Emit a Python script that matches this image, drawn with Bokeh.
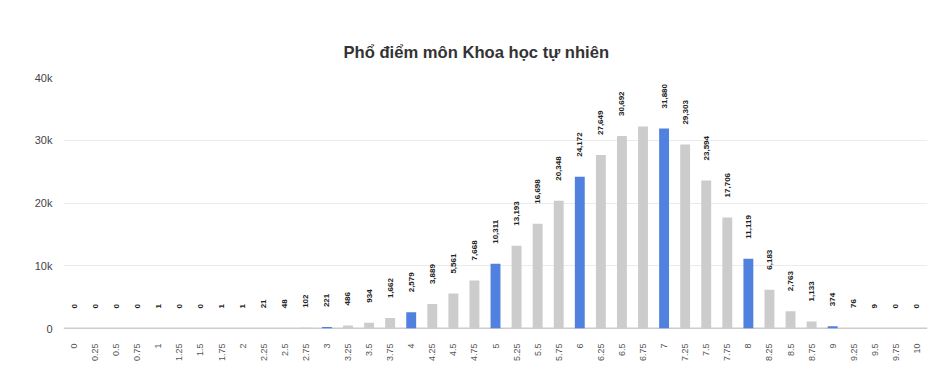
import math
from bokeh.plotting import figure
from bokeh.models import ColumnDataSource, FixedTicker, Span, Range1d, FactorRange
from bokeh.core.properties import value
from bokeh.embed import file_html
from bokeh.resources import INLINE

# ---- data ----
scores = ["0", "0.25", "0.5", "0.75", "1", "1.25", "1.5", "1.75", "2", "2.25", "2.5",
          "2.75", "3", "3.25", "3.5", "3.75", "4", "4.25", "4.5", "4.75", "5", "5.25",
          "5.5", "5.75", "6", "6.25", "6.5", "6.75", "7", "7.25", "7.5", "7.75", "8",
          "8.25", "8.5", "8.75", "9", "9.25", "9.5", "9.75", "10"]
counts = [0, 0, 0, 0, 1, 0, 0, 1, 1, 21, 48, 102, 221, 486, 934, 1662, 2579, 3889,
          5561, 7668, 10311, 13193, 16698, 20348, 24172, 27649, 30692, 32190, 31880,
          29303, 23594, 17706, 11119, 6183, 2763, 1133, 374, 76, 9, 0, 0]
hidden_labels = ["6.75"]
y_ticks = [0, 10000, 20000, 30000, 40000]
y_tick_labels = ["0", "10k", "20k", "30k", "40k"]

GRAY = "#cccccc"
BLUE = "#5181de"

colors = [BLUE if float(s).is_integer() and float(s) > 0 else GRAY for s in scores]
labels = ["" if s in hidden_labels else f"{c:,}" for s, c in zip(scores, counts)]

src = ColumnDataSource(dict(x=scores, y=counts, color=colors, label=labels))

p = figure(width=952, height=387, output_backend="svg", toolbar_location=None,
           x_range=FactorRange(*scores, range_padding=0), y_range=Range1d(0, 40000),
           min_border_left=63, min_border_right=25, min_border_bottom=59, min_border_top=77)

p.title.text = "Phổ điểm môn Khoa học tự nhiên"
p.title.align = "left"
p.title.offset = 280
p.title.text_font = "Liberation Sans"
p.title.text_font_size = "16.6px"
p.title.text_font_style = "bold"
p.title.text_color = "#333333"
p.title.standoff = 31

p.outline_line_color = None
p.xgrid.grid_line_color = None
p.ygrid.grid_line_color = "#ebebeb"
p.ygrid.grid_line_width = 1
p.ygrid.ticker = FixedTicker(ticks=y_ticks)

baseline = Span(location=0, dimension="width", line_color="#999999", line_width=1.5, level="underlay")
p.add_layout(baseline)

p.vbar(x="x", top="y", width=0.47, bottom=0, source=src, fill_color="color", line_color=None)

p.text(x="x", y="y", text="label", source=src, angle=math.pi / 2, text_align="left",
       text_baseline="middle", y_offset=-20, text_font=value("Liberation Sans"),
       text_font_size="8px", text_font_style="bold", text_color="#222222")

p.yaxis.ticker = FixedTicker(ticks=y_ticks)
p.yaxis.major_label_overrides = {t: l for t, l in zip(y_ticks, y_tick_labels)}
p.yaxis.axis_line_color = None
p.yaxis.major_tick_line_color = None
p.yaxis.major_tick_out = 0
p.yaxis.major_tick_in = 0
p.yaxis.minor_tick_line_color = None
p.yaxis.major_label_text_font = "Liberation Sans"
p.yaxis.major_label_text_font_size = "11px"
p.yaxis.major_label_text_color = "#444444"
p.yaxis.major_label_standoff = 11

p.xaxis.axis_line_color = None
p.xaxis.major_tick_line_color = None
p.xaxis.major_tick_out = 0
p.xaxis.major_tick_in = 0
p.xaxis.minor_tick_line_color = None
p.xaxis.major_label_orientation = math.pi / 2
p.xaxis.major_label_text_font = "Liberation Sans"
p.xaxis.major_label_text_font_size = "9px"
p.xaxis.major_label_text_color = "#555555"
p.xaxis.major_label_standoff = 15

open("out.html", "w").write(file_html(p, INLINE))
